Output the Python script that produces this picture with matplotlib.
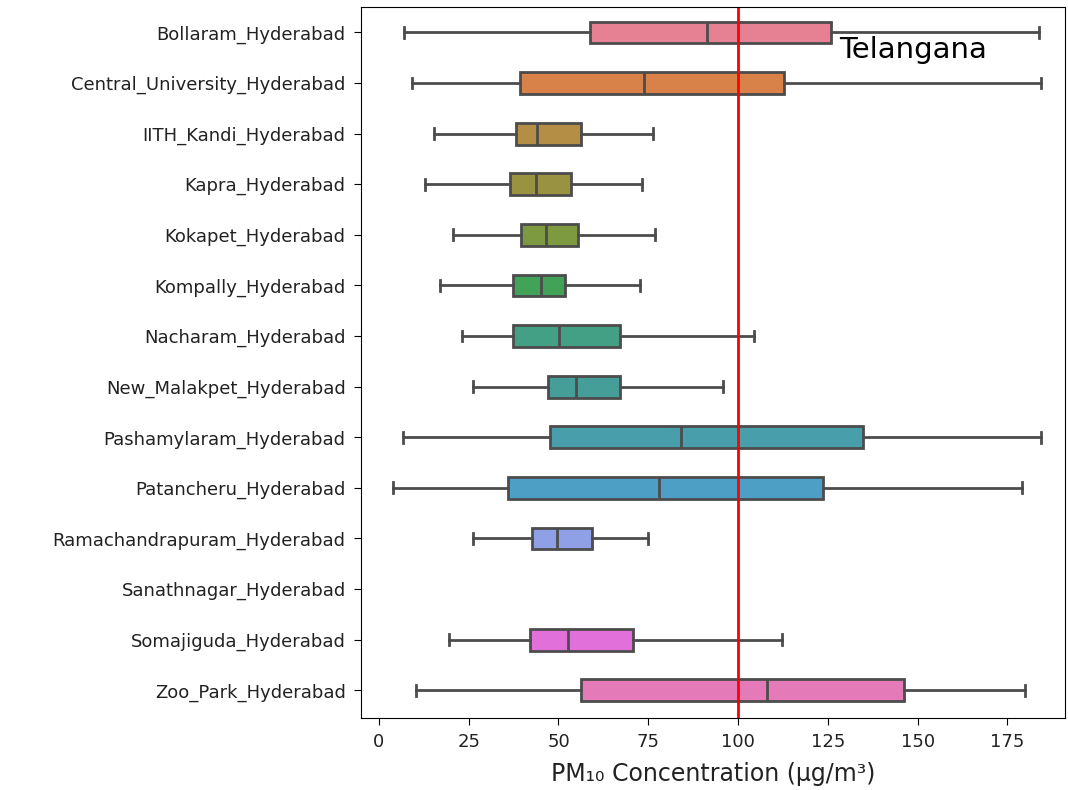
import matplotlib
matplotlib.use("Agg")
import matplotlib.pyplot as plt
import seaborn as sns

stations = ["Bollaram_Hyderabad", "Central_University_Hyderabad", "IITH_Kandi_Hyderabad",
            "Kapra_Hyderabad", "Kokapet_Hyderabad", "Kompally_Hyderabad",
            "Nacharam_Hyderabad", "New_Malakpet_Hyderabad", "Pashamylaram_Hyderabad",
            "Patancheru_Hyderabad", "Ramachandrapuram_Hyderabad", "Sanathnagar_Hyderabad",
            "Somajiguda_Hyderabad", "Zoo_Park_Hyderabad"]

# five-number summaries (None = no data)
whislo = [6.9, 9.2, 15.2, 12.9, 20.6, 16.9, 23.1, 26.1, 6.6, 4.0, 26.2, None, 19.4, 10.2]
q1 = [58.8, 39.3, 38.2, 36.5, 39.7, 37.3, 37.3, 47.0, 47.6, 35.9, 42.6, None, 42.1, 56.4]
med = [91.3, 73.8, 44.1, 43.7, 46.6, 45.1, 50.2, 55.0, 84.0, 77.9, 49.7, None, 52.7, 108.2]
q3 = [125.9, 112.8, 56.4, 53.4, 55.5, 51.9, 67.2, 67.2, 134.8, 123.6, 59.4, None, 70.8, 146.2]
whishi = [183.9, 184.5, 76.4, 73.3, 76.8, 72.7, 104.5, 95.7, 184.5, 179.2, 74.9, None, 112.2, 180.0]

limit = 100

colors = [sns.desaturate(c, 0.75) for c in sns.color_palette("husl", len(stations))]
edge = "#4c4c4c"

fig = plt.figure(figsize=(10.68, 7.9), dpi=100)
ax = fig.add_axes([0.338, 0.091, 0.659, 0.9])

for i in range(len(stations)):
    if med[i] is None:
        continue
    stats = [dict(whislo=whislo[i], q1=q1[i], med=med[i], q3=q3[i], whishi=whishi[i], fliers=[])]
    ax.bxp(stats, positions=[i], vert=False, widths=0.43, patch_artist=True,
           showfliers=False,
           boxprops=dict(facecolor=colors[i], edgecolor=edge, linewidth=2),
           medianprops=dict(color=edge, linewidth=2),
           whiskerprops=dict(color=edge, linewidth=2),
           capprops=dict(color=edge, linewidth=2))

ax.axvline(limit, color="red", linewidth=2)
ax.set_yticks(range(len(stations)))
ax.set_yticklabels(stations, fontsize=13, color="#222222")
ax.set_ylim(len(stations) - 0.45, -0.5)
ax.set_xlim(-5, 191)
ax.set_xticks([0, 25, 50, 75, 100, 125, 150, 175])
ax.tick_params(axis="x", labelsize=13, labelcolor="#222222", length=5, pad=6)
ax.tick_params(axis="y", pad=6, length=5)
ax.set_xlabel("PM₁₀ Concentration (µg/m³)", fontsize=17, color="#222222", labelpad=8)
ax.text(0.68, 0.94, "Telangana", transform=ax.transAxes, fontsize=21, va="center")

fig.savefig("out.png", dpi=100)
